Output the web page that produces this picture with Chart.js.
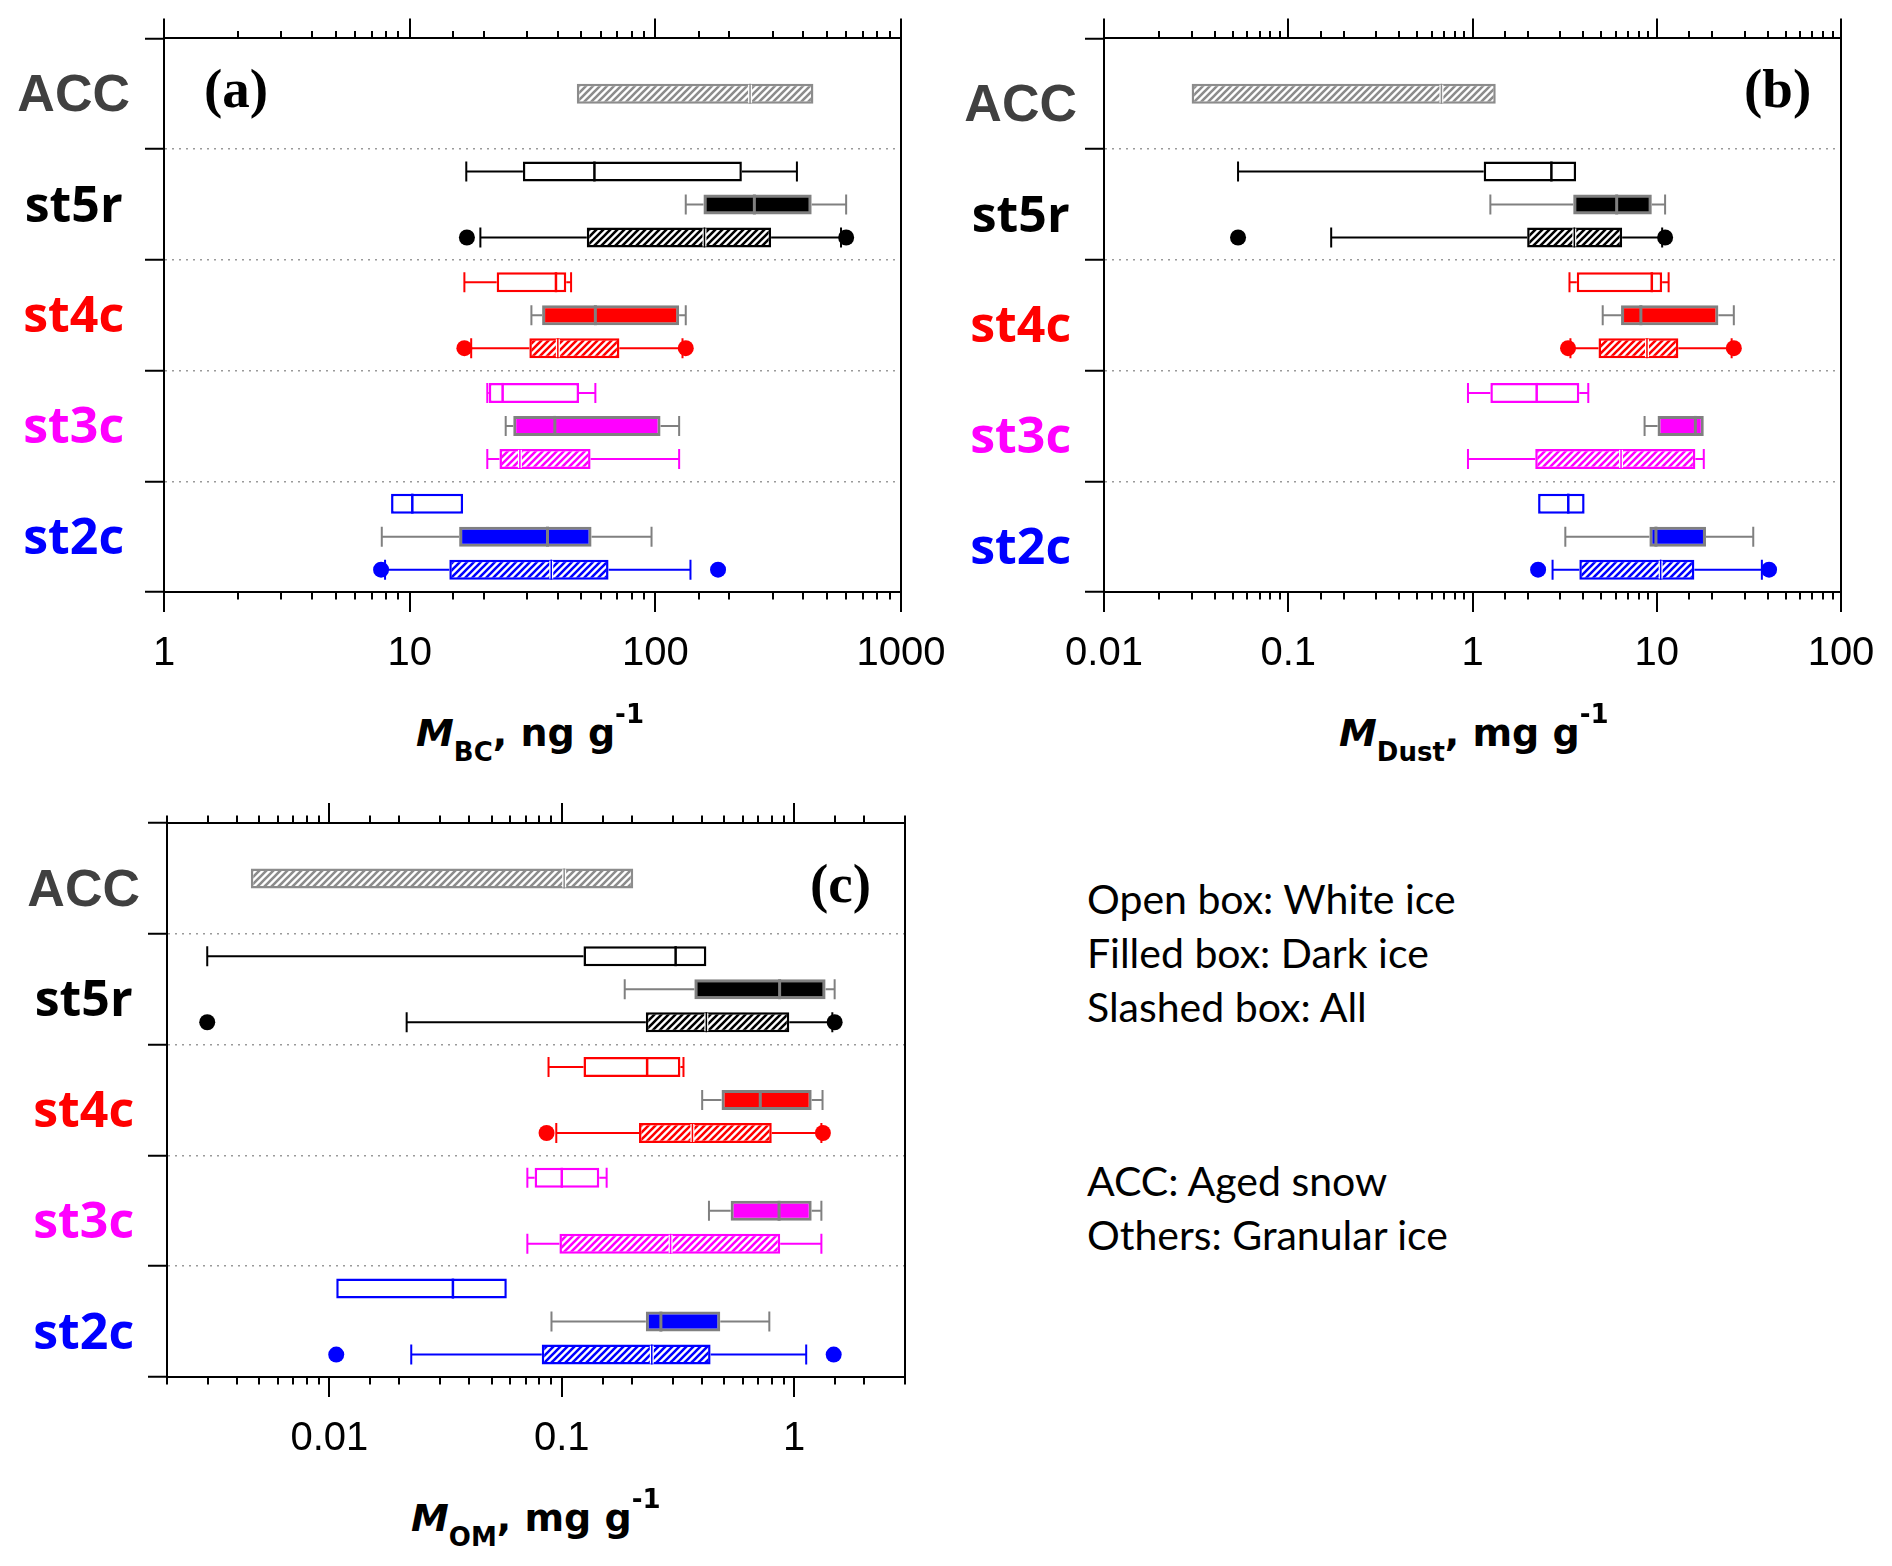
<!DOCTYPE html>
<html><head><meta charset="utf-8">
<script src="https://cdn.jsdelivr.net/npm/chart.js@4.4.1/dist/chart.umd.min.js"></script>
<style>
body{margin:0;background:#fff;width:1892px;height:1566px;position:relative;overflow:hidden}
canvas{position:absolute}
.ttl{position:absolute;font-family:'DejaVu Sans',sans-serif;font-weight:bold;font-size:38px;line-height:38px;white-space:nowrap;color:#000}
.ttl .sb{font-size:26px;position:relative;top:15px}
.ttl .sp{font-size:26px;position:relative;top:-23px}
.let{position:absolute;font-family:'Liberation Serif','Times New Roman',serif;font-weight:bold;font-size:55px;line-height:55px;color:#000}
.note{position:absolute;left:1087px;font-family:Lato,sans-serif;font-size:41px;line-height:54px;color:#000;white-space:nowrap}
</style></head><body>
<canvas id="ca" width="960" height="700" style="left:0;top:0"></canvas>
<canvas id="cb" width="946" height="700" style="left:946px;top:0"></canvas>
<canvas id="cc" width="946" height="705" style="left:0;top:780px"></canvas>

<div class="ttl" style="left:416px;top:714px"><i>M</i><span class="sb">BC</span>, ng g<span class="sp">-1</span></div>
<div class="ttl" style="left:1339px;top:714px"><i>M</i><span class="sb">Dust</span>, mg g<span class="sp">-1</span></div>
<div class="ttl" style="left:411px;top:1499px"><i>M</i><span class="sb">OM</span>, mg g<span class="sp">-1</span></div>

<div class="let" style="left:204px;top:61px">(a)</div>
<div class="let" style="left:1744px;top:61px">(b)</div>
<div class="let" style="left:810px;top:856px">(c)</div>

<div class="note" style="top:872px">Open box: White ice<br>Filled box: Dark ice<br>Slashed box: All</div>
<div class="note" style="top:1154px">ACC: Aged snow<br>Others: Granular ice</div>

<script>
// ---------- data ----------
const categories = ['ACC', 'st5r', 'st4c', 'st3c', 'st2c'];
const labelColors = ['#404040', '#000000', '#ff0000', '#ff00ff', '#0000ff'];
const boxColors = ['#8c8c8c', '#000000', '#ff0000', '#ff00ff', '#0000ff'];

// each entry: [lower whisker, Q1, median, Q3, upper whisker]
const bcWhite = [null, [17.0, 28.9, 56.5, 225, 377], [16.7, 22.6, 39.4, 43.4, 45.4], [20.7, 21.0, 23.9, 48.9, 57], [null, 8.4, 10.25, 16.5, null]];
const bcDark  = [null, [133, 157, 253, 433, 598], [31.3, 34.6, 57, 125, 133], [24.6, 26.4, 39, 105, 125], [7.7, 15.9, 36.4, 55, 96.5]];
const bcAll   = [[null, 47.9, 243, 440, null], [19.4, 52.6, 158.5, 296, 570], [17.8, 30.7, 40.1, 71.4, 129], [20.7, 23.2, 28.1, 54.5, 125], [7.94, 14.5, 37.7, 64.5, 139]];
const bcOutliers = [[], [17.1, 598], [16.7, 133], [], [7.65, 180]];
const bcTickLabels = ['1', '10', '100', '1000'];
const bcRange = [1, 1000];

const dustWhite = [null, [0.0534, 1.15, 2.68, 3.65, null], [3.36, 3.68, 9.4, 10.7, 11.6], [0.945, 1.25, 2.23, 3.8, 4.25], [null, 2.27, 3.31, 4.06, null]];
const dustDark  = [null, [1.25, 3.52, 6.06, 9.4, 11.1], [5.09, 6.4, 8.2, 21.6, 26.2], [8.59, 10.1, 16.2, 18.0, null], [3.19, 9.12, 9.9, 18.5, 33.4]];
const dustAll   = [[null, 0.0299, 0.678, 1.337, null], [0.171, 1.98, 3.57, 6.49, 10.7], [3.4, 4.83, 8.85, 13.1, 25.5], [0.945, 2.19, 6.4, 16.2, 18.0], [2.72, 3.8, 10.5, 16.0, 37.2]];
const dustOutliers = [[], [0.0534, 11.1], [3.3, 26.2], [], [2.27, 40.7]];
const dustTickLabels = ['0.01', '0.1', '1', '10', '100'];
const dustRange = [0.01, 100];

const omWhite = [null, [0.00298, 0.124, 0.309, 0.419, null], [0.0877, 0.124, 0.233, 0.324, 0.334], [0.0711, 0.0764, 0.1, 0.145, 0.156], [null, 0.0107, 0.034, 0.058, null]];
const omDark  = [null, [0.1866, 0.372, 0.866, 1.366, 1.494], [0.402, 0.487, 0.715, 1.19, 1.325], [0.43, 0.533, 0.861, 1.19, 1.31], [0.0903, 0.23, 0.267, 0.481, 0.782]];
const omAll   = [[null, 0.00459, 0.1024, 0.203, null], [0.0215, 0.23, 0.419, 0.953, 1.46], [0.0947, 0.215, 0.365, 0.801, 1.31], [0.0711, 0.0977, 0.294, 0.871, 1.31], [0.0225, 0.082, 0.244, 0.437, 1.127]];
const omOutliers = [[], [0.00298, 1.494], [0.086, 1.33], [], [0.0107, 1.48]];
const omTickLabels = ['0.01', '0.1', '1'];
const omRange = [0.002, 3];

// ---------- helpers ----------
const DARK_EDGE = '#808080';
const isDecade = v => Math.abs(Math.log10(v) - Math.round(Math.log10(v))) < 1e-6;

function hatch(color) {
  const s = 7, c = document.createElement('canvas');
  c.width = s; c.height = s;
  const g = c.getContext('2d');
  g.fillStyle = '#fff'; g.fillRect(0, 0, s, s);
  g.strokeStyle = color; g.lineWidth = 2.6;
  g.beginPath();
  g.moveTo(-1, s + 1); g.lineTo(s + 1, -1);
  g.moveTo(-2, 2); g.lineTo(2, -2);
  g.moveTo(s - 2, s + 2); g.lineTo(s + 2, s - 2);
  g.stroke();
  return g.createPattern(c, 'repeat');
}
const patterns = boxColors.map(hatch);

const boxPlugin = {
  id: 'boxExtras',
  beforeDatasetsDraw(chart) {
    const ctx = chart.ctx, xs = chart.scales.x;
    chart.data.datasets.forEach((ds, d) => {
      const meta = chart.getDatasetMeta(d);
      ds.stats.forEach((s, i) => {
        if (!s) return;
        const el = meta.data[i], y = el.y, h = el.height / 2;
        ctx.save();
        ctx.strokeStyle = ds.kind === 'dark' ? DARK_EDGE : boxColors[i];
        ctx.lineWidth = 2;
        [[0, 1], [4, 3]].forEach(([w, b]) => {
          if (s[w] == null) return;
          const xw = xs.getPixelForValue(s[w]), xb = xs.getPixelForValue(s[b]);
          ctx.beginPath();
          ctx.moveTo(xw, y); ctx.lineTo(xb, y);
          ctx.moveTo(xw, y - h); ctx.lineTo(xw, y + h);
          ctx.stroke();
        });
        ctx.restore();
      });
    });
  },
  afterDatasetsDraw(chart) {
    const ctx = chart.ctx, xs = chart.scales.x;
    chart.data.datasets.forEach((ds, d) => {
      const meta = chart.getDatasetMeta(d);
      ds.stats.forEach((s, i) => {
        if (!s) return;
        const el = meta.data[i], y = el.y, h = el.height / 2;
        const xm = xs.getPixelForValue(s[2]);
        ctx.save();
        if (ds.kind === 'all') {
          ctx.strokeStyle = '#fff'; ctx.lineWidth = 4;
          ctx.beginPath(); ctx.moveTo(xm, y - h + 1); ctx.lineTo(xm, y + h - 1); ctx.stroke();
          ctx.strokeStyle = boxColors[i]; ctx.lineWidth = 1.5;
        } else {
          ctx.strokeStyle = ds.kind === 'dark' ? DARK_EDGE : boxColors[i];
          ctx.lineWidth = ds.kind === 'dark' ? 3 : 2.5;
        }
        ctx.beginPath(); ctx.moveTo(xm, y - h); ctx.lineTo(xm, y + h); ctx.stroke();
        if (ds.outliers) {
          ctx.fillStyle = boxColors[i];
          ds.outliers[i].forEach(v => {
            ctx.beginPath(); ctx.arc(xs.getPixelForValue(v), y, 8, 0, Math.PI * 2); ctx.fill();
          });
        }
        ctx.restore();
      });
    });
  },
  afterDraw(chart) {
    const ctx = chart.ctx, a = chart.chartArea;
    ctx.save();
    ctx.strokeStyle = '#000'; ctx.lineWidth = 2;
    ctx.beginPath(); ctx.moveTo(a.right, a.top); ctx.lineTo(a.right, a.bottom); ctx.stroke();
    // major (long) and minor (short) tick marks of the log axes
    ['x', 'x2'].forEach(id => {
      const sc = chart.scales[id];
      sc.ticks.forEach(t => {
        const len = isDecade(t.value) ? 20 : 7.5;
        const px = Math.round(sc.getPixelForValue(t.value));
        ctx.beginPath();
        if (sc.position === 'bottom') { ctx.moveTo(px, a.bottom); ctx.lineTo(px, a.bottom + len); }
        else { ctx.moveTo(px, a.top); ctx.lineTo(px, a.top - len); }
        ctx.stroke();
      });
    });
    ctx.restore();
  }
};

function makePanel(id, white, dark, all, outliers, tickLabels, range, lay) {
  const common = {
    borderSkipped: false, skipNull: true,
    barPercentage: 0.64, categoryPercentage: 0.894, maxBarThickness: 20
  };
  const toBars = arr => arr.map(s => s ? [s[1], s[3]] : null);
  const label = v => tickLabels.find(l => Math.abs(Math.log10(parseFloat(l)) - Math.log10(v)) < 1e-6) || '';
  return new Chart(document.getElementById(id), {
    type: 'bar',
    data: {
      labels: categories,
      datasets: [
        Object.assign({label: 'White ice', kind: 'white', data: toBars(white), stats: white,
          backgroundColor: '#ffffff', borderColor: c => boxColors[c.dataIndex], borderWidth: 2.5}, common),
        Object.assign({label: 'Dark ice', kind: 'dark', data: toBars(dark), stats: dark,
          backgroundColor: c => boxColors[c.dataIndex], borderColor: DARK_EDGE, borderWidth: 3}, common),
        Object.assign({label: 'All', kind: 'all', data: toBars(all), stats: all, outliers: outliers,
          backgroundColor: c => patterns[c.dataIndex], borderColor: c => boxColors[c.dataIndex], borderWidth: 2.5}, common)
      ]
    },
    options: {
      indexAxis: 'y', responsive: false, animation: false, devicePixelRatio: 1, events: [],
      layout: {padding: {left: 0, right: lay.right, top: lay.top, bottom: 8}},
      plugins: {legend: {display: false}, tooltip: {enabled: false}},
      scales: {
        x: {
          type: 'logarithmic', position: 'bottom', min: range[0], max: range[1],
          afterFit: s => { s.height = 100; },
          grid: {drawOnChartArea: false, drawTicks: true, tickLength: 37, color: 'rgba(0,0,0,0)', tickColor: 'rgba(0,0,0,0)'},
          border: {display: true, color: '#000', width: 2},
          ticks: {autoSkip: false, maxRotation: 0, minRotation: 0, padding: 1, color: '#000',
            font: {family: "'Liberation Sans', Arial, sans-serif", size: 40}, callback: v => label(v)}
        },
        x2: {
          type: 'logarithmic', axis: 'x', position: 'top', min: range[0], max: range[1],
          afterFit: s => { s.height = 25; },
          grid: {drawOnChartArea: false, drawTicks: true, tickLength: 20, color: 'rgba(0,0,0,0)', tickColor: 'rgba(0,0,0,0)'},
          border: {display: true, color: '#000', width: 2},
          ticks: {display: false}
        },
        y: {
          type: 'category',
          afterFit: s => { s.width = lay.yWidth; s.paddingTop = 0; s.paddingBottom = 0; },
          grid: {
            offset: true, drawOnChartArea: true, drawTicks: true, lineWidth: 1.5,
            color: c => (c.index === undefined || c.index === 0) ? 'rgba(0,0,0,0)' : '#9a9a9a',
            tickLength: 19, tickWidth: 2, tickColor: '#000'
          },
          border: {display: true, color: '#000', width: 2, dash: [2, 5]},
          ticks: {
            crossAlign: 'center', padding: lay.labPad, labelOffset: lay.labOff,
            color: c => labelColors[c.index],
            font: c => c.index === 0
              ? {family: "'Liberation Sans', Arial, sans-serif", weight: 'bold', size: 52}
              : {family: "'Open Sans', sans-serif", weight: 'bold', size: 50}
          }
        }
      }
    },
    plugins: [boxPlugin]
  });
}

makePanel('ca', bcWhite, bcDark, bcAll, bcOutliers, bcTickLabels, bcRange,
  {right: 59, top: 13.4, yWidth: 164, labPad: 15, labOff: 3});
makePanel('cb', dustWhite, dustDark, dustAll, dustOutliers, dustTickLabels, dustRange,
  {right: 51, top: 13.4, yWidth: 158, labPad: 8, labOff: 13});
makePanel('cc', omWhite, omDark, omAll, omOutliers, omTickLabels, omRange,
  {right: 41, top: 18, yWidth: 167, labPad: 8, labOff: 13});
</script>
</body></html>
